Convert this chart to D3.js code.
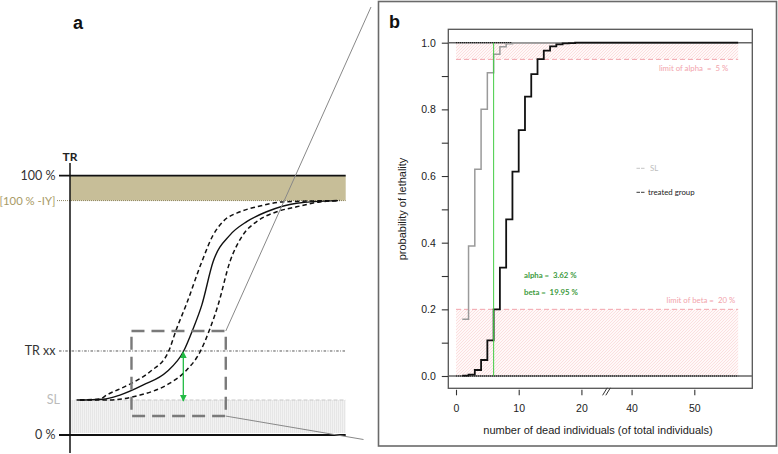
<!DOCTYPE html>
<html><head><meta charset="utf-8">
<script src="https://cdn.jsdelivr.net/npm/d3@7/dist/d3.min.js"></script>
<style>
html,body{margin:0;padding:0;background:#fff;}
svg{display:block;}
text{white-space:pre;}
</style>
</head><body>
<svg id="chart" width="778" height="454"></svg>
<script>
// ---------- Panel a data (schematic, TR in %) ----------
const aLevels = [100, 90.4, 32.4, 13.5, 0];
const aLevelLabels = ["100 %", "[100 % -IY]", "TR xx", "SL", "0 %"];
const trMid = [[2.4,13.5],[12.0,13.8],[18.1,15.4],[26.6,19.3],[35.1,24.4],[41.1,32.1],[44.7,41.1],[47.8,50.1],[51.9,66.8],[58.0,77.1],[64.1,82.3],[71.3,86.1],[82.2,89.4],[97.2,90.4]];
const trLow  = [[3.6,13.5],[10.9,13.9],[13.3,15.4],[21.1,19.3],[29.0,24.4],[35.7,32.1],[38.7,41.1],[42.1,50.1],[47.8,66.8],[51.9,77.1],[55.5,82.3],[61.7,86.1],[67.7,88.0],[77.3,89.9],[97.2,90.4]];
const trHigh = [[3.6,13.5],[13.3,13.5],[25.4,15.4],[35.1,19.3],[41.7,24.4],[47.2,32.1],[50.8,41.1],[53.7,50.1],[58.0,66.8],[62.7,77.1],[67.7,82.3],[75.0,86.1],[82.2,88.0],[90.7,89.9],[97.9,90.4]];
const arrowX = 41.1;
const zoomBox = {x0: 22.3, x1: 56.5, y0: 7.3, y1: 40.1};

// ---------- Panel b data ----------
const bXTicks = [0, 10, 20, 40, 50];
const bYTicks = [0, 0.2, 0.4, 0.6, 0.8, 1.0];
const bYMinor = [0.1, 0.3, 0.5, 0.7, 0.9];
const slX = [1, 2, 3, 4, 5, 6, 7, 8, 9, 57];
const slP = [0.17, 0.39, 0.62, 0.80, 0.91, 0.965, 0.988, 0.997, 1.0, 1.0];
const trtX = [1, 2, 3, 4, 5, 6, 7, 8, 9, 10, 11, 12, 13, 14, 15, 16, 17, 18, 19, 57];
const trtP = [0.001, 0.004, 0.018, 0.048, 0.107, 0.2, 0.325, 0.47, 0.613, 0.738, 0.838, 0.906, 0.951, 0.976, 0.989, 0.995, 0.998, 0.999, 1.0, 1.0];
const alphaLimit = 0.05, betaLimit = 0.20, critical = 6;
const alphaText = "alpha =  3.62 %", betaText = "beta =  19.95 %";
const xMaxB = 57;

const svg = d3.select("#chart");
const defs = svg.append("defs");

// patterns
const pk = defs.append("pattern").attr("id","pinkHatch").attr("patternUnits","userSpaceOnUse").attr("width",3).attr("height",3);
pk.append("rect").attr("width",3).attr("height",3).attr("fill","#fff8f8");
pk.append("path").attr("d","M-1,1 l2,-2 M0,3 l3,-3 M2,4 l2,-2").attr("stroke","#f7caca").attr("stroke-width",0.55);
const gp = defs.append("pattern").attr("id","grayHatch").attr("patternUnits","userSpaceOnUse").attr("width",2).attr("height",4);
gp.append("rect").attr("width",2).attr("height",4).attr("fill","#f2f2f2");
gp.append("path").attr("d","M0.5,0 V4").attr("stroke","#e3e3e3").attr("stroke-width",0.8);
["start","end"].forEach(k=>{
  defs.append("marker").attr("id","ar"+k).attr("viewBox","0 0 10 10").attr("refX",9).attr("refY",5)
    .attr("markerWidth",5.5).attr("markerHeight",5.5).attr("orient", k==="start" ? "auto-start-reverse" : "auto")
    .append("path").attr("d","M0,0 L10,5 L0,10 z").attr("fill","#22bb44");
});

// ================= Panel a =================
const aX = d3.scaleLinear().domain([0,100]).range([70,345.7]);
const aY = d3.scaleLinear().domain([0,100]).range([435,175.7]);
const ga = svg.append("g");
const fontA = "Lato, 'Open Sans', sans-serif";

// khaki band
ga.append("rect").attr("x",aX(0)).attr("y",aY(100)).attr("width",aX(100)-aX(0)).attr("height",aY(aLevels[1])-aY(100)).attr("fill","#c7be98");
// gray SL zone
ga.append("rect").attr("x",aX(0)).attr("y",aY(aLevels[3])).attr("width",aX(100)-aX(0)).attr("height",aY(0)-aY(aLevels[3])-2).attr("fill","url(#grayHatch)");

// level lines
ga.append("line").attr("x1",59).attr("x2",aX(100)).attr("y1",aY(100)).attr("y2",aY(100)).attr("stroke","#111").attr("stroke-width",1.8);
ga.append("line").attr("x1",59).attr("x2",aX(100)).attr("y1",aY(0)).attr("y2",aY(0)).attr("stroke","#111").attr("stroke-width",1.8);
ga.append("line").attr("x1",57).attr("x2",aX(100)).attr("y1",aY(aLevels[1])).attr("y2",aY(aLevels[1])).attr("stroke","#8f8660").attr("stroke-width",1).attr("stroke-dasharray","1,1");
ga.append("line").attr("x1",59).attr("x2",aX(100)).attr("y1",aY(aLevels[2])).attr("y2",aY(aLevels[2])).attr("stroke","#444").attr("stroke-width",0.9).attr("stroke-dasharray","2.5,1.5,0.8,1.5");
ga.append("line").attr("x1",aX(2)).attr("x2",aX(100)).attr("y1",aY(aLevels[3])).attr("y2",aY(aLevels[3])).attr("stroke","#c8c8c8").attr("stroke-width",1).attr("stroke-dasharray","4,2");

// y axis
ga.append("line").attr("x1",aX(0)).attr("x2",aX(0)).attr("y1",163).attr("y2",453).attr("stroke","#111").attr("stroke-width",1.5);
ga.append("text").attr("x",aX(0)).attr("y",161).attr("text-anchor","middle").attr("font-family",fontA).attr("font-weight","bold").attr("font-size",12).attr("fill","#222").text("TR");

// level labels
const labColors = ["#333","#a89a66","#333","#bbbbbb","#333"];
const labSizes = [12.5, 11.3, 12.5, 12.5, 12.5];
aLevels.forEach((v,i)=>{
  ga.append("text").attr("x", i===3 ? 60 : 55.5).attr("y",aY(v)).attr("dy","0.35em").attr("text-anchor","end")
    .attr("font-family",fontA).attr("font-size",labSizes[i]).attr("fill",labColors[i]).text(aLevelLabels[i]);
});

// curves
const lineA = d3.line().x(d=>aX(d[0])).y(d=>aY(d[1])).curve(d3.curveMonotoneX);
ga.append("path").attr("d",lineA(trLow)).attr("fill","none").attr("stroke","#111").attr("stroke-width",1.5).attr("stroke-dasharray","4.5,3");
ga.append("path").attr("d",lineA(trHigh)).attr("fill","none").attr("stroke","#111").attr("stroke-width",1.5).attr("stroke-dasharray","4.5,3");
ga.append("path").attr("d",lineA(trMid)).attr("fill","none").attr("stroke","#111").attr("stroke-width",1.4);

// green arrow
ga.append("line").attr("x1",aX(arrowX)).attr("x2",aX(arrowX)).attr("y1",aY(aLevels[2])+1).attr("y2",aY(aLevels[3])+1)
  .attr("stroke","#22bb44").attr("stroke-width",1.3).attr("marker-start","url(#arstart)").attr("marker-end","url(#arend)");

// zoom box
ga.append("rect").attr("x",aX(zoomBox.x0)).attr("y",aY(zoomBox.y1)).attr("width",aX(zoomBox.x1)-aX(zoomBox.x0)).attr("height",aY(zoomBox.y0)-aY(zoomBox.y1))
  .attr("fill","none").attr("stroke","#7a7a7a").attr("stroke-width",2.4).attr("stroke-dasharray","13,7");
// connectors
ga.append("line").attr("x1",aX(zoomBox.x1)).attr("y1",aY(zoomBox.y1)).attr("x2",371).attr("y2",7).attr("stroke","#888").attr("stroke-width",1);
ga.append("line").attr("x1",aX(zoomBox.x1)).attr("y1",aY(zoomBox.y0)).attr("x2",363.5).attr("y2",439.5).attr("stroke","#888").attr("stroke-width",1);

ga.append("text").attr("x",78).attr("y",28.5).attr("text-anchor","middle").attr("font-family","'Liberation Sans', Arial, sans-serif").attr("font-weight","bold").attr("font-size",18).attr("fill","#111").text("a");

// ================= Panel b =================
const gb = svg.append("g");
gb.append("rect").attr("x",378.5).attr("y",1.5).attr("width",398).attr("height",444.5).attr("fill","none").attr("stroke","#6a6a6a").attr("stroke-width",1.6);
gb.append("text").attr("x",394.5).attr("y",27.5).attr("text-anchor","middle").attr("font-family","'Liberation Sans', Arial, sans-serif").attr("font-weight","bold").attr("font-size",18).attr("fill","#111").text("b");

const bX = d3.scaleLinear().domain([0,24,36,57]).range([456,606.5,606.5,738.2]);
const bY = d3.scaleLinear().domain([0,1]).range([376,42.7]);
const box = {x0:448.3, x1:752.3, y0:29.3, y1:388.3};
const fontB = "'Liberation Sans', Arial, sans-serif";
const fontN = "Lato, 'Open Sans', sans-serif";

// hatched regions
gb.append("rect").attr("x",bX(0)).attr("y",bY(1)).attr("width",bX(xMaxB)-bX(0)).attr("height",bY(1-alphaLimit)-bY(1)).attr("fill","url(#pinkHatch)");
gb.append("rect").attr("x",bX(0)).attr("y",bY(betaLimit)).attr("width",bX(xMaxB)-bX(0)).attr("height",bY(0)-bY(betaLimit)).attr("fill","url(#pinkHatch)");
// limit lines
[1-alphaLimit, betaLimit].forEach(v=>{
  gb.append("line").attr("x1",bX(0)).attr("x2",bX(xMaxB)).attr("y1",bY(v)).attr("y2",bY(v)).attr("stroke","#f2a4ac").attr("stroke-width",1).attr("stroke-dasharray","5,3");
});

// plot box
gb.append("rect").attr("x",box.x0).attr("y",box.y0).attr("width",box.x1-box.x0).attr("height",box.y1-box.y0).attr("fill","none").attr("stroke","#555").attr("stroke-width",1.3);

// reference lines at 0 and 1
[0,1].forEach(v=>{
  gb.append("line").attr("x1",box.x0).attr("x2",box.x1).attr("y1",bY(v)).attr("y2",bY(v)).attr("stroke","#666").attr("stroke-width",1.4);
});
gb.append("line").attr("x1",bX(0)).attr("x2",bX(xMaxB)).attr("y1",bY(0)).attr("y2",bY(0)).attr("stroke","#111").attr("stroke-width",1).attr("stroke-dasharray","1,1");
gb.append("line").attr("x1",bX(0)).attr("x2",bX(9)).attr("y1",bY(1)).attr("y2",bY(1)).attr("stroke","#111").attr("stroke-width",1).attr("stroke-dasharray","1,1");

// step lines
const stepLine = d3.line().x(d=>bX(d[0])).y(d=>bY(d[1])).curve(d3.curveStepAfter);
gb.append("path").attr("d",stepLine(slX.map((x,i)=>[x,slP[i]]))).attr("fill","none").attr("stroke","#9a9a9a").attr("stroke-width",1.5);
gb.append("path").attr("d",stepLine(trtX.map((x,i)=>[x,trtP[i]]))).attr("fill","none").attr("stroke","#111").attr("stroke-width",1.8);

// critical value line
gb.append("line").attr("x1",bX(critical)).attr("x2",bX(critical)).attr("y1",bY(1)).attr("y2",bY(0)).attr("stroke","#44cc44").attr("stroke-width",1);

// axes
const xAxis = d3.axisBottom(bX).tickValues(bXTicks).tickSize(5.5).tickPadding(9).tickFormat(d3.format("d"));
const gx = gb.append("g").attr("transform",`translate(0,${box.y1+1.5})`).call(xAxis);
gx.select(".domain").remove();
gx.selectAll("line").attr("stroke","#333").attr("stroke-width",1.1);
gx.selectAll("text").attr("font-family",fontB).attr("font-size",10.5).attr("fill","#222");

const yAxis = d3.axisLeft(bY).tickValues(bYTicks).tickSize(6.5).tickPadding(6).tickFormat(d3.format(".1f"));
const gy = gb.append("g").attr("transform",`translate(${box.x0},0)`).call(yAxis);
gy.select(".domain").remove();
gy.selectAll("line").attr("stroke","#333").attr("stroke-width",1.1);
gy.selectAll("text").attr("font-family",fontB).attr("font-size",10.5).attr("fill","#222");
const gym = gb.append("g").attr("transform",`translate(${box.x0},0)`).call(d3.axisLeft(bY).tickValues(bYMinor).tickSize(6.5).tickFormat(""));
gym.select(".domain").remove();
gym.selectAll("line").attr("stroke","#333").attr("stroke-width",1.1);

// axis break marker
const bx = bX(24.2);
[-1.6, 1.6].forEach(o=>{
  gb.append("line").attr("x1",bx+o-2.3).attr("x2",bx+o+2.3).attr("y1",box.y1+7).attr("y2",box.y1-0.5).attr("stroke","#333").attr("stroke-width",1);
});

// titles
gb.append("text").attr("x",598).attr("y",434).attr("text-anchor","middle").attr("font-family",fontB).attr("font-size",11).attr("fill","#222").text("number of dead individuals (of total individuals)");
gb.append("text").attr("transform","translate(406,209) rotate(-90)").attr("text-anchor","middle").attr("font-family",fontB).attr("font-size",11).attr("fill","#222").text("probability of lethality");

// annotations
gb.append("text").attr("x",bX(xMaxB)-10).attr("y",bY(1-alphaLimit)+11.5).attr("text-anchor","end").attr("font-family",fontN).attr("font-size",7.8).attr("fill","#f2a4ac").text("limit of alpha  =  5 %");
gb.append("text").attr("x",bX(xMaxB)-3).attr("y",bY(betaLimit)-6.5).attr("text-anchor","end").attr("font-family",fontN).attr("font-size",7.8).attr("fill","#f2a4ac").text("limit of beta =  20 %");
gb.append("text").attr("x",524).attr("y",278).attr("font-family",fontN).attr("font-weight","bold").attr("font-size",7.8).attr("fill","#3d9a3d").text(alphaText);
gb.append("text").attr("x",524).attr("y",295).attr("font-family",fontN).attr("font-weight","bold").attr("font-size",7.8).attr("fill","#3d9a3d").text(betaText);

// legend
const legend = [{label:"SL", color:"#bdbdbd", y:168.3},{label:"treated group", color:"#222", y:192.3}];
legend.forEach(l=>{
  gb.append("line").attr("x1",636.5).attr("x2",645).attr("y1",l.y).attr("y2",l.y).attr("stroke",l.color).attr("stroke-width",0.9).attr("stroke-dasharray","3.5,1");
  gb.append("text").attr("x",l.label==="SL"?650:648).attr("y",l.y).attr("dy","0.35em").attr("font-family",fontN).attr("font-size",7.8).attr("fill",l.color).text(l.label);
});
</script>
</body></html>
